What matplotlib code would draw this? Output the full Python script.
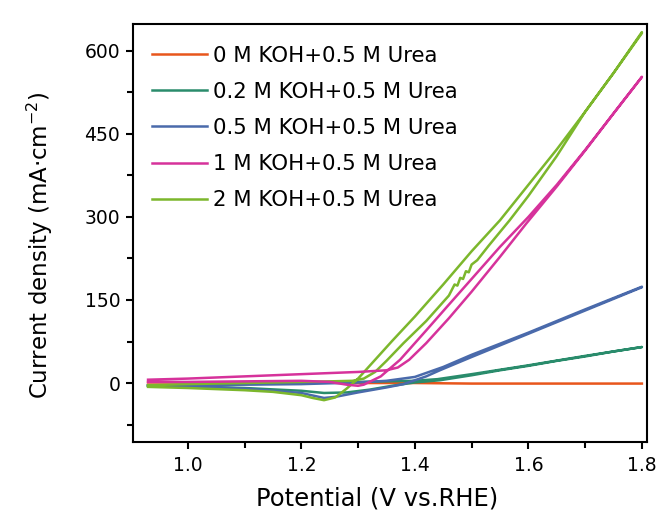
import matplotlib
matplotlib.use("Agg")
import matplotlib.pyplot as plt
from matplotlib.ticker import MultipleLocator, FormatStrFormatter

plt.rcParams['font.family'] = ['DejaVu Sans']
plt.rcParams['mathtext.fontset'] = 'dejavusans'

labels = ["0 M KOH+0.5 M Urea", "0.2 M KOH+0.5 M Urea", "0.5 M KOH+0.5 M Urea",
          "1 M KOH+0.5 M Urea", "2 M KOH+0.5 M Urea"]
colors = ["#e8561c", "#2a8c6c", "#4a6aab", "#d6329b", "#7cb72c"]

# 0 M KOH
e0 = [0.93, 1.10, 1.20, 1.30, 1.40, 1.50, 1.60, 1.70, 1.80]
j0 = [1, 1, 1, 0, 0, -1, -1, -1, -1]

# 0.2 M KOH (forward, backward)
e02_f = [0.93, 1.00, 1.10, 1.20, 1.24, 1.28, 1.32, 1.36, 1.40, 1.444, 1.50, 1.55, 1.60, 1.65, 1.70, 1.75, 1.80]
j02_f = [-5, -6, -9, -14, -18, -17, -12, -5, 1, 5, 14, 23, 31, 40, 48, 57, 65]
e02_b = [1.80, 1.70, 1.60, 1.50, 1.44, 1.40, 1.35, 1.30, 1.20, 1.10, 1.00, 0.93]
j02_b = [65, 49, 32, 16, 7, 4, 3, 2, 0, -2, -4, -5]

# 0.5 M KOH
e05_f = [0.93, 1.00, 1.10, 1.20, 1.24, 1.26, 1.30, 1.35, 1.38, 1.42, 1.444, 1.50, 1.55, 1.60, 1.65, 1.70, 1.75, 1.80]
j05_f = [-4, -6, -10, -18, -27, -25, -17, -8, -2, 12, 23, 47, 68, 89, 110, 131, 152, 173]
e05_b = [1.80, 1.70, 1.60, 1.50, 1.45, 1.40, 1.35, 1.30, 1.20, 1.10, 1.00, 0.93]
j05_b = [174, 133, 91, 51, 29, 11, 4, 1, -2, -3, -4, -4]

# 1 M KOH
e1_f = [0.93, 1.00, 1.10, 1.20, 1.30, 1.35, 1.37, 1.39, 1.42, 1.46, 1.50, 1.55, 1.597, 1.65, 1.70, 1.75, 1.80]
j1_f = [6, 8, 12, 16, 20, 23, 28, 42, 72, 117, 165, 228, 289, 355, 420, 487, 553]
e1_b = [1.80, 1.75, 1.70, 1.65, 1.60, 1.55, 1.50, 1.456, 1.42, 1.374, 1.34, 1.31, 1.30, 1.28, 1.25, 1.20, 1.10, 1.00, 0.93]
j1_b = [553, 487, 421, 358, 300, 246, 188, 137, 95, 42, 12, -3, -5, -3, 2, 4, 3, 2, 2]

# 2 M KOH
e2_f = [0.93, 1.00, 1.10, 1.15, 1.20, 1.22, 1.24, 1.26, 1.28, 1.30, 1.33, 1.36, 1.40, 1.45, 1.50, 1.55, 1.60, 1.65, 1.70, 1.75, 1.80]
j2_f = [-7, -9, -13, -16, -22, -27, -31, -26, -10, 8, 42, 76, 120, 178, 238, 294, 358, 422, 490, 560, 634]
e2_b = [1.80, 1.75, 1.70, 1.65, 1.60, 1.567, 1.53, 1.51, 1.50, 1.495, 1.49, 1.485, 1.48, 1.475, 1.47, 1.46,
        1.42, 1.38, 1.35, 1.33, 1.31, 1.29, 1.25, 1.20, 1.10, 1.00, 0.93]
j2_b = [632, 560, 490, 410, 338, 294, 248, 222, 214, 200, 202, 188, 190, 176, 178, 158,
        112, 72, 40, 20, 8, 4, 3, 2, 0, -2, -4]

fig = plt.figure(figsize=(6.67, 5.29), dpi=100)
ax = fig.add_axes([0.199, 0.164, 0.771, 0.791])

lw = 1.8
h0, = ax.plot(e0, j0, color=colors[0], lw=lw)
h1, = ax.plot(e02_f + e02_b, j02_f + j02_b, color=colors[1], lw=lw)
h2, = ax.plot(e05_f + e05_b, j05_f + j05_b, color=colors[2], lw=lw)
h4, = ax.plot(e2_f + e2_b, j2_f + j2_b, color=colors[4], lw=lw)
h3, = ax.plot(e1_f + e1_b, j1_f + j1_b, color=colors[3], lw=lw)

ax.set_xlim(0.903, 1.809)
ax.set_ylim(-107, 649)
ax.xaxis.set_major_locator(MultipleLocator(0.2))
ax.xaxis.set_minor_locator(MultipleLocator(0.1))
ax.yaxis.set_major_locator(MultipleLocator(150))
ax.yaxis.set_minor_locator(MultipleLocator(75))
ax.xaxis.set_major_formatter(FormatStrFormatter('%.1f'))

for s in ax.spines.values():
    s.set_linewidth(1.5)
ax.tick_params(which='major', direction='out', length=5, width=1.5, labelsize=13.5)
ax.tick_params(which='minor', direction='out', length=4, width=1.5)
ax.tick_params(axis='x', pad=5)
ax.tick_params(axis='y', pad=4)

ax.set_xlabel("Potential (V vs.RHE)", fontsize=17.5)
ax.set_ylabel(r"Current density (mA·cm$^{-2}$)", fontsize=16.5)
ax.xaxis.set_label_coords(0.475, -0.106)
ax.yaxis.set_label_coords(-0.152, 0.471)

leg = ax.legend([h0, h1, h2, h3, h4], labels, loc='upper left', frameon=False,
                fontsize=15.3, handlelength=2.6, handletextpad=0.3, labelspacing=0.76,
                borderaxespad=0.0, borderpad=0.0, bbox_to_anchor=(0.037, 0.948))

fig.savefig("out.png", dpi=100)
